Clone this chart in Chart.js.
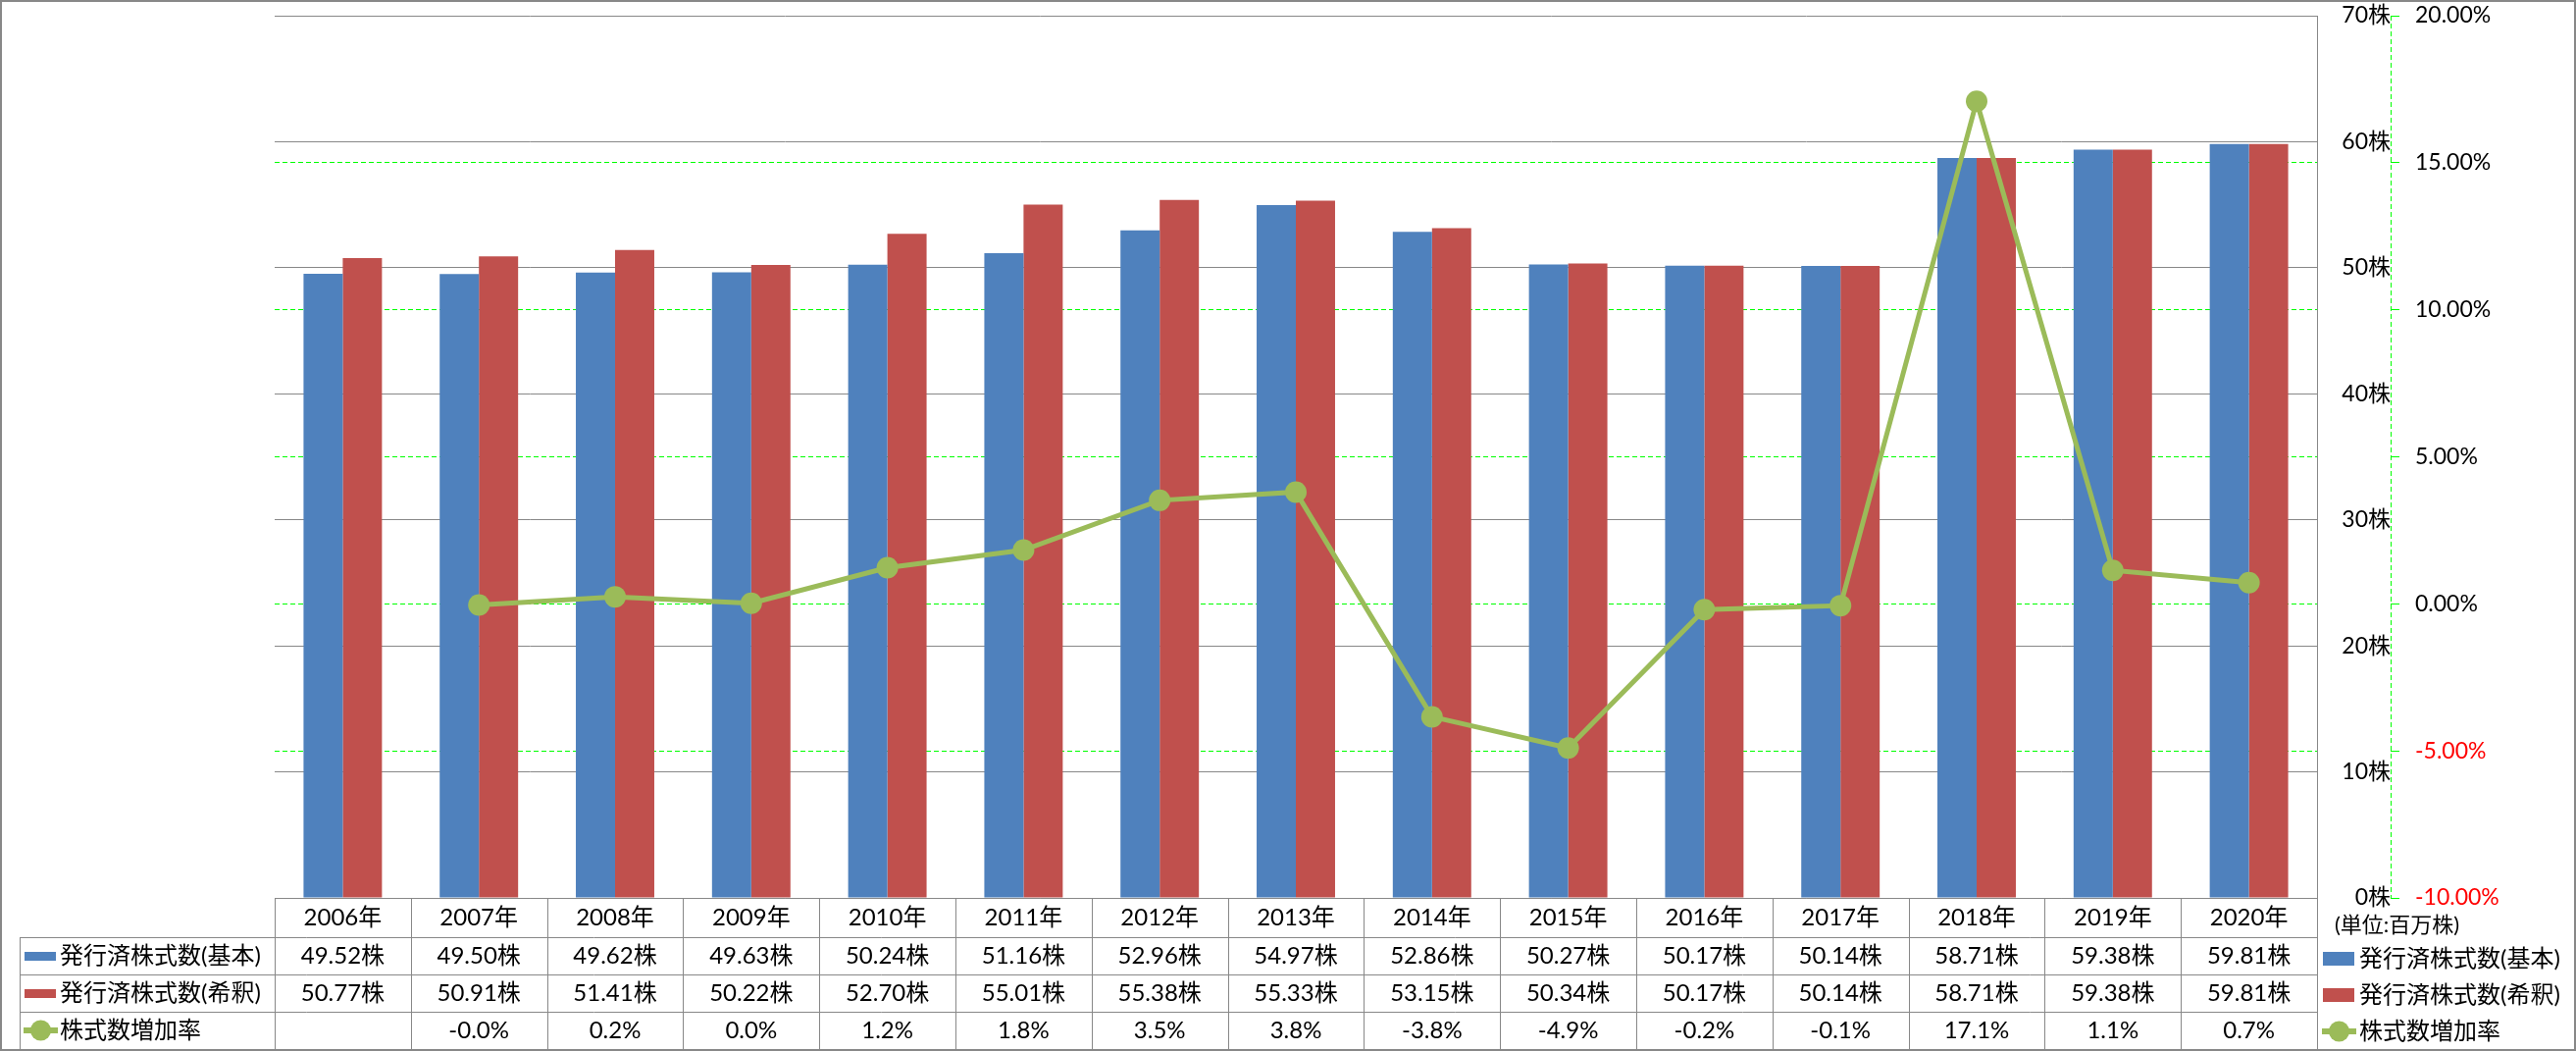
<!DOCTYPE html>
<html><head><meta charset="utf-8">
<script src="https://cdn.jsdelivr.net/npm/chart.js@4/dist/chart.umd.min.js"></script>
<style>html,body{margin:0;padding:0;background:#fff;}#wrap{width:2626px;height:1071px;}</style>
</head><body><div id="wrap"><canvas id="c" width="2626" height="1071"></canvas></div>
<script>
const categories = ['2006年','2007年','2008年','2009年','2010年','2011年','2012年','2013年','2014年','2015年','2016年','2017年','2018年','2019年','2020年'];
const basicShares   = [49.52,49.50,49.62,49.63,50.24,51.16,52.96,54.97,52.86,50.27,50.17,50.14,58.71,59.38,59.81];
const dilutedShares = [50.77,50.91,51.41,50.22,52.70,55.01,55.38,55.33,53.15,50.34,50.17,50.14,58.71,59.38,59.81];
const growthRate    = [null,-0.04,0.24,0.02,1.23,1.83,3.52,3.80,-3.84,-4.90,-0.20,-0.06,17.09,1.14,0.72];
const seriesNames = ['発行済株式数(基本)','発行済株式数(希釈)','株式数増加率'];
const unitLabel = '(単位:百万株)';
const shareAxis = {min:0, max:70, step:10, unit:'株'};
const rateAxis = {min:-10, max:20, step:5};

const BLUE='#4F81BD', RED='#C0504D', GREEN='#9BBB59', LIME='#00FF00', GRAY='#888888';
const FONT = "Lato, 'Noto Sans CJK JP', sans-serif";
const FS = 23, TFS = 24;

function hline(ctx,x1,x2,y){y=Math.round(y)+0.5;ctx.beginPath();ctx.moveTo(x1,y);ctx.lineTo(x2,y);ctx.stroke();}
function vline(ctx,x,y1,y2){x=Math.round(x)+0.5;ctx.beginPath();ctx.moveTo(x,y1);ctx.lineTo(x,y2);ctx.stroke();}

function drawKey(ctx, ds, x, y, h){
  ctx.save();
  if (ds.type === 'line'){
    ctx.strokeStyle = ds.borderColor; ctx.lineWidth = 6;
    ctx.beginPath(); ctx.moveTo(x-1,y); ctx.lineTo(x+34,y); ctx.stroke();
    ctx.fillStyle = ds.pointBackgroundColor;
    ctx.beginPath(); ctx.arc(x+16.5,y,10.5,0,Math.PI*2); ctx.fill();
  } else {
    ctx.fillStyle = ds.backgroundColor;
    ctx.fillRect(x, Math.round(y-h/2), 32, h);
  }
  ctx.restore();
}

const tablePlugin = {
  id:'dataTable',
  beforeDraw(chart){
    const {ctx,width,height}=chart;
    ctx.save(); ctx.fillStyle='#fff'; ctx.fillRect(0,0,width,height); ctx.restore();
  },
  afterDraw(chart){
    const {ctx, chartArea:ca, scales} = chart;
    const xs = scales.x, y1 = scales.y1;
    const n = categories.length;
    const colW = xs.getPixelForValue(1) - xs.getPixelForValue(0);
    const headTop = ca.bottom, headBottom = xs.bottom;
    const rowH = 38, labelLeft = 20;
    const tableBottom = headBottom + rowH*3;
    ctx.save();
    ctx.strokeStyle = GRAY; ctx.lineWidth = 1;
    hline(ctx, ca.left, ca.right, headTop);
    for (let r=0;r<=3;r++) hline(ctx, labelLeft, ca.right, headBottom + r*rowH);
    for (let i=0;i<=n;i++){
      const bx = i<n ? xs.getPixelForValue(i) - colW/2 : xs.getPixelForValue(n-1) + colW/2;
      vline(ctx, bx, headTop, tableBottom+1);
    }
    vline(ctx, labelLeft, headBottom, tableBottom+1);

    const dss = chart.data.datasets;
    ctx.fillStyle = '#000'; ctx.font = TFS+'px '+FONT;
    ctx.textAlign='center'; ctx.textBaseline='middle';
    dss.forEach((ds, r) => {
      const cy = headBottom + r*rowH + rowH/2;
      ds.data.forEach((v,i) => {
        if (v === null || v === undefined) return;
        const t = ds.type === 'line' ? v.toFixed(1)+'%' : v.toFixed(2)+shareAxis.unit;
        ctx.fillText(t, xs.getPixelForValue(i), cy);
      });
      drawKey(ctx, ds, 25, cy, 9);
      ctx.textAlign='left'; ctx.fillStyle='#000';
      ctx.fillText(ds.label, 61, cy);
      ctx.textAlign='center';
    });

    ctx.textAlign='left';
    ctx.font = '22px '+FONT; ctx.fillStyle='#000';
    ctx.fillText(unitLabel, 2380, headTop + 28);
    ctx.font = TFS+'px '+FONT;
    dss.forEach((ds, r) => {
      const cy = headTop + 62 + r*37;
      drawKey(ctx, ds, 2368, cy, 14);
      ctx.fillStyle='#000';
      ctx.fillText(ds.label, 2405, cy);
    });

    ctx.strokeStyle = LIME; ctx.lineWidth = 1; ctx.setLineDash([5,3]);
    vline(ctx, y1.left, ca.top, ca.bottom+1);
    ctx.setLineDash([]);

    ctx.strokeStyle = GRAY; ctx.lineWidth = 2;
    ctx.strokeRect(1,1,chart.width-2,chart.height-2);
    ctx.restore();
  }
};

new Chart(document.getElementById('c'), {
  data:{
    labels: categories,
    datasets:[
      {type:'bar', label:seriesNames[0], data:basicShares, backgroundColor:BLUE, yAxisID:'y', order:2, barPercentage:1, categoryPercentage:0.576},
      {type:'bar', label:seriesNames[1], data:dilutedShares, backgroundColor:RED, yAxisID:'y', order:2, barPercentage:1, categoryPercentage:0.576},
      {type:'line', label:seriesNames[2], data:growthRate, borderColor:GREEN, backgroundColor:GREEN, pointBackgroundColor:GREEN, pointBorderColor:GREEN, borderWidth:5, pointRadius:11, pointBorderWidth:0, yAxisID:'y1', order:0, tension:0, spanGaps:false}
    ]
  },
  options:{
    responsive:false, animation:false, devicePixelRatio:1,
    layout:{padding:{left:280, top:16, right:39, bottom:116}},
    plugins:{legend:{display:false}, tooltip:{enabled:false}},
    scales:{
      x:{
        type:'category', offset:true,
        grid:{display:false, drawTicks:false}, border:{display:false},
        ticks:{font:{family:FONT,size:TFS}, color:'#000', padding:6, maxRotation:0, autoSkip:false},
        afterFit(s){ s.height = 40; s.paddingLeft = 0; s.paddingRight = 0; }
      },
      y:{
        position:'right', min:shareAxis.min, max:shareAxis.max,
        grid:{color:GRAY, lineWidth:1, drawTicks:false},
        border:{display:true, color:GRAY, width:1},
        ticks:{stepSize:shareAxis.step, font:{family:FONT,size:FS}, color:'#000', padding:20, crossAlign:'far',
          callback:v => v + shareAxis.unit},
        afterFit(s){ s.width = 75; s.paddingTop = 0; s.paddingBottom = 0; }
      },
      y1:{
        position:'right', min:rateAxis.min, max:rateAxis.max,
        grid:{
          color:c => (c.tick && (c.tick.value === rateAxis.max || c.tick.value === rateAxis.min)) ? 'rgba(0,0,0,0)' : LIME,
          lineWidth:1, drawTicks:true, tickLength:9, tickColor:LIME
        },
        border:{display:false, dash:[5,3]},
        ticks:{stepSize:rateAxis.step, font:{family:FONT,size:FS}, color:c => c.tick.value < 0 ? '#FF0000' : '#000', padding:16,
          callback:v => v.toFixed(2) + '%'},
        afterFit(s){ s.width = 150; s.paddingTop = 0; s.paddingBottom = 0; }
      }
    }
  },
  plugins:[tablePlugin]
});
</script></body></html>
